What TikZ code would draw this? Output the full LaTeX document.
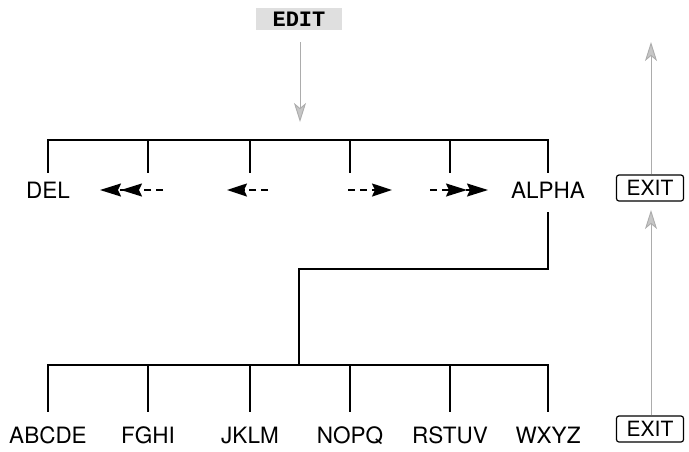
\documentclass[tikz,border=0pt]{standalone}
\usepackage{fontspec}
\setmainfont{TeX Gyre Heros}
\setmonofont{Liberation Mono}
\usetikzlibrary{arrows.meta}

\tikzset{
  key/.style={font=\fontsize{22.5}{24}\selectfont, text height=16pt, text depth=0pt,
    inner xsep=0pt, inner ysep=9pt},
  lowkey/.style={key, inner ysep=15pt},
  exitbox/.style={draw, line width=1.2pt, rounded corners=2.5pt,
    font=\fontsize{21}{23}\selectfont, minimum width=67pt, minimum height=26pt, inner sep=0pt},
  menu/.style={line width=1.5pt},
  softkey/.style={gray!65, line width=0.9pt,
    -{Stealth[length=19pt,width=12pt,inset=5pt,fill=gray!45]}},
  movearrow/.style={line width=1.6pt, dash pattern=on 7pt off 5pt},
}

\begin{document}
\begin{tikzpicture}[x=1pt,y=-1pt]
    \useasboundingbox (0,0) rectangle (689,451);

    % Mode key
    \node[fill=gray!25, font=\ttfamily\bfseries\fontsize{22}{24}\selectfont,
        text height=14pt, text depth=0pt, inner xsep=17pt, inner ysep=4pt] (edit) at (299,19) {EDIT};
    \coordinate (edittip) at (300,122);
    \draw[softkey, shorten <=12pt] (edit.south -| edittip) -- (edittip);

    % Upper menu
    \node[key] (del) at (48,190) {DEL};
    \foreach \x/\n in {148/a, 250/b, 350/c, 450/d}
        \node[key] (top\n) at (\x,190) {};
    \node[key] (alpha) at (548,190) {ALPHA};

    \coordinate (bus1) at (0,140);
    \draw[menu] (del.north) -- (del.north |- bus1) -- (alpha.north |- bus1) -- (alpha.north);
    \foreach \n in {a,b,c,d}
        \draw[menu] (top\n.north) -- (top\n.north |- bus1);

    % Cursor moves
    \draw[movearrow, -{Stealth[length=21pt,width=13pt,inset=3pt]Stealth[length=21pt,width=13pt,inset=3pt]}]
        ([xshift=15pt]topa.center) -- ([xshift=-48pt]topa.center);
    \draw[movearrow, -{Stealth[length=20pt,width=13pt,inset=3pt]}]
        ([xshift=18pt]topb.center) -- ([xshift=-23pt]topb.center);
    \draw[movearrow, -{Stealth[length=20pt,width=13pt,inset=3pt]}]
        ([xshift=-2pt]topc.center) -- ([xshift=42pt]topc.center);
    \draw[movearrow, -{Stealth[length=21pt,width=13pt,inset=3pt]Stealth[length=21pt,width=13pt,inset=3pt]}]
        ([xshift=-20pt]topd.center) -- ([xshift=38pt]topd.center);

    % Lower menu
    \coordinate (jog) at (299,269);
    \coordinate (bus2) at (0,365);
    \draw[menu, shorten <=5pt] (alpha.south) -- (alpha.south |- jog) -- (jog) -- (jog |- bus2);

    \foreach \x/\t [count=\i] in {48/ABCDE, 148/FGHI, 250/JKLM, 350/NOPQ, 450/RSTUV, 548/WXYZ}
        \node[lowkey] (low\i) at (\x,435) {\t};
    \draw[menu] (low1.north) -- (low1.north |- bus2) -- (low6.north |- bus2) -- (low6.north);
    \foreach \i in {2,...,5}
        \draw[menu] (low\i.north) -- (low\i.north |- bus2);

    % Exit keys
    \node[exitbox] (exit1) at (650,188) {EXIT};
    \node[exitbox] (exit2) at (650,429) {EXIT};
    \coordinate (exittip1) at (651,42);
    \coordinate (exittip2) at (651,210);
    \draw[softkey] (exit1.north -| exittip1) -- (exittip1);
    \draw[softkey] (exit2.north -| exittip2) -- (exittip2);

\end{tikzpicture}
\end{document}
